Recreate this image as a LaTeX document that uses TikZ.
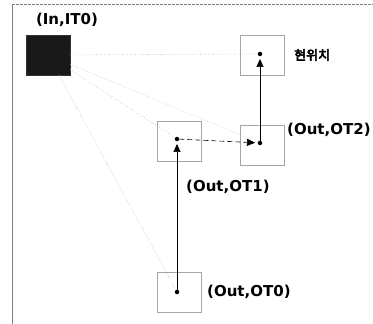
\documentclass[tikz,border=0pt]{standalone}
\usepackage{fontspec}
\setmainfont{DejaVu Sans}
\newfontfamily\kr{Noto Sans CJK KR}[AutoFakeBold=4]
\usetikzlibrary{arrows.meta}
\tikzset{
  cell/.style={draw=gray!70, line width=0.6pt, minimum width=44pt, minimum height=40pt, inner sep=0pt},
  inbox/.style={fill=black!90, draw=black!80, minimum width=44pt, minimum height=40pt, inner sep=0pt},
  pt/.style={circle, fill=black, inner sep=0pt, minimum size=4.5pt},
  lbl/.style={font=\bfseries\fontsize{15}{17}\selectfont, inner sep=0pt},
  klbl/.style={font=\kr\bfseries\fontsize{13}{15}\selectfont, inner sep=0pt},
  guide/.style={gray!60, line width=0.6pt, dotted},
  move/.style={black, line width=0.7pt, -{Triangle[length=8pt,width=7pt]}, shorten >=2.5pt},
  jump/.style={black, line width=0.6pt, dash pattern=on 5pt off 3pt, -{Triangle[length=8pt,width=7pt]}, shorten >=2.5pt},
  frame/.style={gray, line width=0.6pt}
}
\begin{document}
\begin{tikzpicture}[x=1pt,y=-1pt]
\useasboundingbox (0,0) rectangle (373,324);
% frame
\coordinate (ftl) at (12,4);
\coordinate (ftr) at (373,4);
\coordinate (fbl) at (12,324);
\draw[frame, dash pattern=on 3pt off 1pt] (ftl) -- (ftr);
\draw[frame] (ftl) -- (fbl);
% boxes
\node[inbox] (in) at (48,55) {};
\node[cell] (cur) at (262.5,55.5) {};
\node[cell] (ot2) at (262.5,145) {};
\node[cell] (ot1) at (179,141.5) {};
\node[cell] (ot0) at (179,292.5) {};
% dots
\node[pt] (dcur) at (260,54) {};
\node[pt] (dot2) at (260,143) {};
\node[pt] (dot1) at (177,139) {};
\node[pt] (dot0) at (177,292) {};
% labels
\node[lbl] (lin) at (67,20) {(In,IT0)};
\node[klbl, anchor=west] (lcur) at (294,55) {현위치};
\node[lbl, anchor=west] (lot2) at (287,130) {(Out,OT2)};
\node[lbl, anchor=west] (lot1) at (186,187) {(Out,OT1)};
\node[lbl, anchor=west] (lot0) at (207,292) {(Out,OT0)};
% guide lines
\draw[guide] (in) -- (dcur);
\draw[guide] (in) -- (dot2);
\draw[guide] (in) -- (dot1);
\draw[guide] (in) -- (dot0);
% moves
\draw[move] (dot0) -- (dot1);
\draw[jump] (dot1) -- (dot2);
\draw[move] (dot2) -- (dcur);
\end{tikzpicture}
\end{document}
